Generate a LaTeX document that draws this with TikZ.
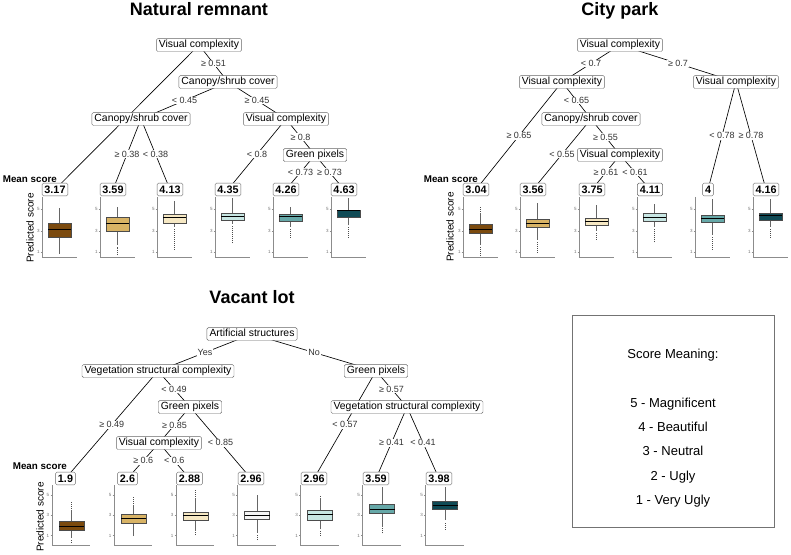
\documentclass[tikz,border=0pt]{standalone}
\usepackage{fontspec}
\setmainfont{Liberation Sans}
\usetikzlibrary{positioning,backgrounds}

\definecolor{brownA}{HTML}{7B4A0E}
\definecolor{tanA}{HTML}{D8B365}
\definecolor{creamA}{HTML}{F6E8C3}
\definecolor{greyA}{HTML}{F5F5F5}
\definecolor{lblueA}{HTML}{C7E6E3}
\definecolor{tealA}{HTML}{66A8A8}
\definecolor{dtealA}{HTML}{0F4A55}

\begin{document}
\begin{tikzpicture}[x=1pt,y=-1pt,
  split/.style={draw=black!60,fill=white,rounded corners=1.5pt,font=\fontsize{10.4}{12}\selectfont,inner xsep=2.6pt,inner ysep=1.6pt,text height=7.6pt,text depth=2.1pt},
  leaf/.style={draw=black!60,fill=white,rounded corners=1.5pt,font=\fontsize{10.8}{12}\selectfont\bfseries,inner xsep=2.4pt,inner ysep=2.3pt,text height=7.8pt,text depth=0.4pt},
  cut/.style={fill=white,font=\fontsize{9}{10}\selectfont,text=black!80,inner sep=0.8pt},
  edge/.style={line width=0.65pt},
  title/.style={font=\fontsize{18}{20}\selectfont\bfseries,anchor=base},
  mean/.style={font=\fontsize{9.8}{12}\selectfont\bfseries,anchor=base east,inner xsep=0pt},
  ylab/.style={font=\fontsize{10}{12}\selectfont,rotate=90},
  axisline/.style={draw=black!45,line width=1pt},
  ticklab/.style={font=\fontsize{4.5}{5}\selectfont,text=black!55,inner sep=0pt},
  whisk/.style={draw=black!60,line width=0.6pt},
  outl/.style={draw=black!70,line width=0.9pt,dash pattern=on 0.8pt off 1.2pt},
  boxline/.style={draw=black!70,line width=0.5pt},
  med/.style={line width=1pt},
  legtxt/.style={font=\fontsize{13}{15}\selectfont,anchor=base}]
\useasboundingbox (0,0) rectangle (791,554);

% titles
\node[title] (tnat) at (199,16) {Natural remnant};
\node[title] (tcity) at (620,16) {City park};
\node[title] (tvac) at (252,303) {Vacant lot};

% natural remnant tree
\node[split] (nroot) at (199,45) {Visual complexity};
\node[split] (ncs1) at (228,82) {Canopy/shrub cover};
\node[split] (ncs2) at (141,119) {Canopy/shrub cover};
\node[split] (nvc2) at (286,119) {Visual complexity};
\node[split] (ngp) at (315,155) {Green pixels};
\node[leaf] (nl1) at (55,189.5) {3.17};
\node[leaf] (nl2) at (113,189.5) {3.59};
\node[leaf] (nl3) at (170,189.5) {4.13};
\node[leaf] (nl4) at (228,189.5) {4.35};
\node[leaf] (nl5) at (286,189.5) {4.26};
\node[leaf] (nl6) at (344,189.5) {4.63};
\node[mean] (nmean) at (57,182) {Mean score};
\node[ylab] (nylab) at (30,228) {Predicted score};

% city park tree
\node[split] (croot) at (620,45) {Visual complexity};
\node[split] (cvc1) at (562,82) {Visual complexity};
\node[split] (cvc2) at (736,82) {Visual complexity};
\node[split] (ccs) at (591,119) {Canopy/shrub cover};
\node[split] (cvc3) at (620,155) {Visual complexity};
\node[leaf] (cl1) at (476,189.5) {3.04};
\node[leaf] (cl2) at (533,189.5) {3.56};
\node[leaf] (cl3) at (592,189.5) {3.75};
\node[leaf] (cl4) at (650,189.5) {4.11};
\node[leaf] (cl5) at (708,189.5) {4};
\node[leaf] (cl6) at (766,189.5) {4.16};
\node[mean] (cmean) at (478,182) {Mean score};
\node[ylab] (cylab) at (450,227) {Predicted score};

% vacant lot tree
\node[split] (vroot) at (252,334) {Artificial structures};
\node[split] (vvs1) at (158,371) {Vegetation structural complexity};
\node[split] (vgp1) at (376,371) {Green pixels};
\node[split] (vgp2) at (190,407) {Green pixels};
\node[split] (vvs2) at (407,407) {Vegetation structural complexity};
\node[split] (vvc) at (159,443) {Visual complexity};
\node[leaf] (vl1) at (65.5,478.5) {1.9};
\node[leaf] (vl2) at (127.5,478.5) {2.6};
\node[leaf] (vl3) at (189.5,478.5) {2.88};
\node[leaf] (vl4) at (251,478.5) {2.96};
\node[leaf] (vl5) at (314,478.5) {2.96};
\node[leaf] (vl6) at (376,478.5) {3.59};
\node[leaf] (vl7) at (439,478.5) {3.98};
\node[mean] (vmean) at (67,469.5) {Mean score};
\node[ylab] (vylab) at (40,517) {Predicted score};

% splits
\begin{scope}[on background layer]
  \draw[edge] (nroot.center) -- (nl1.center);
  \foreach \a/\b/\t in {nroot/ncs1/{≥ 0.51}, ncs1/ncs2/{< 0.45}, ncs1/nvc2/{≥ 0.45},
      ncs2/nl2/{≥ 0.38}, ncs2/nl3/{< 0.38}, nvc2/nl4/{< 0.8}, nvc2/ngp/{≥ 0.8},
      ngp/nl5/{< 0.73}, ngp/nl6/{≥ 0.73},
      croot/cvc1/{< 0.7}, croot/cvc2/{≥ 0.7}, cvc1/cl1/{≥ 0.65}, cvc1/ccs/{< 0.65},
      ccs/cl2/{< 0.55}, ccs/cvc3/{≥ 0.55}, cvc3/cl3/{≥ 0.61}, cvc3/cl4/{< 0.61},
      cvc2/cl5/{< 0.78}, cvc2/cl6/{≥ 0.78},
      vroot/vvs1/Yes, vroot/vgp1/No, vvs1/vl1/{≥ 0.49}, vvs1/vgp2/{< 0.49},
      vgp2/vvc/{≥ 0.85}, vgp2/vl4/{< 0.85}, vvc/vl2/{≥ 0.6}, vvc/vl3/{< 0.6},
      vgp1/vl5/{< 0.57}, vgp1/vvs2/{≥ 0.57}, vvs2/vl6/{≥ 0.41}, vvs2/vl7/{< 0.41}}
    \draw[edge] (\a.center) -- node[cut] {\t} (\b.center);
\end{scope}

% box plots, top row
\foreach \c/\lo/\qa/\md/\qb/\hi/\ol/\oh/\col in {
    55/0.84/2.42/3.16/3.72/5.12/0.84/5.12/brownA,
    113/1.67/2.98/3.63/4.28/5.2/0.74/5.2/tanA,
    170/3.35/3.72/4.19/4.56/5.77/1.21/5.77/creamA,
    228/3.63/4.0/4.37/4.65/6.05/1.86/6.05/lblueA,
    286/3.35/3.9/4.3/4.56/5.2/2.33/5.2/tealA,
    344/3.5/4.28/4.9/4.93/6.05/2.33/6.05/dtealA,
    476/1.67/2.76/3.16/3.63/4.65/0.65/5.3/brownA,
    533/2.14/3.28/3.67/4.09/5.58/0.96/5.58/tanA,
    592/2.98/3.53/3.84/4.16/5.4/2.14/5.4/creamA,
    650/3.38/3.9/4.2/4.62/5.49/1.93/5.49/lblueA,
    708/2.6/3.79/4.1/4.47/5.95/1.21/5.95/tealA,
    766/3.38/4.0/4.4/4.65/6.0/2.35/6.0/dtealA}
{
  \begin{scope}[shift={(\c-13,263)},y=10.75pt]
    \draw[axisline] (0,6.14) -- (0,0.47) -- (35,0.47);
    \foreach \t in {1,3,5} {
      \draw[black!45,line width=0.5pt] (-1.5,\t) -- (0,\t);
      \node[ticklab] at (-3.6,\t) {\t};
    }
    \draw[whisk] (17.5,\lo) -- (17.5,\hi);
    \ifdim\ol pt<\lo pt\relax \draw[outl] (17.5,\ol) -- (17.5,\lo-0.15); \fi
    \ifdim\oh pt>\hi pt\relax \draw[outl] (17.5,\hi+0.15) -- (17.5,\oh); \fi
    \draw[boxline,fill=\col] (6,\qa) rectangle (29,\qb);
    \draw[med] (6,\md) -- (29,\md);
  \end{scope}
}

% box plots, vacant lot
\foreach \c/\lo/\qa/\md/\qb/\hi/\ol/\oh/\col in {
    65.5/0.78/1.49/1.95/2.38/3.53/0.28/4.34/brownA,
    127.5/0.97/2.22/2.67/3.1/4.02/0.97/4.77/tanA,
    189.5/1.49/2.54/2.94/3.3/4.68/1.07/5.49/creamA,
    251/1.3/2.61/3.0/3.36/5.0/0.58/5.0/greyA,
    314/1.63/2.54/3.04/3.53/4.68/0.97/5.0/lblueA,
    376/1.89/3.2/3.62/4.09/5.76/1.24/5.76/tealA,
    439/2.54/3.62/4.0/4.41/5.76/1.63/5.76/dtealA}
{
  \begin{scope}[shift={(\c-13.5,545.9)},y=10.18pt]
    \draw[axisline] (0,5.98) -- (0,0) -- (38,0);
    \foreach \t in {1,3,5} {
      \draw[black!45,line width=0.5pt] (-1.5,\t) -- (0,\t);
      \node[ticklab] at (-4,\t) {\t};
    }
    \draw[whisk] (19.5,\lo) -- (19.5,\hi);
    \ifdim\ol pt<\lo pt\relax \draw[outl] (19.5,\ol) -- (19.5,\lo-0.15); \fi
    \ifdim\oh pt>\hi pt\relax \draw[outl] (19.5,\hi+0.15) -- (19.5,\oh); \fi
    \draw[boxline,fill=\col] (7,\qa) rectangle (32,\qb);
    \draw[med] (7,\md) -- (32,\md);
  \end{scope}
}

% legend
\node[draw=black!55,line width=0.8pt,minimum width=202pt,minimum height=212pt,inner sep=0pt] (legend) at (673,421) {};
\node[legtxt] (leghead) at (673,358) {Score Meaning:};
\foreach \s/\w [count=\i] in {5/Magnificent,4/Beautiful,3/Neutral,2/Ugly,1/Very Ugly}
  \node[legtxt] (leg\s) at (673,{407+(\i-1)*24.4}) {\s\ - \w};
\end{tikzpicture}
\end{document}
